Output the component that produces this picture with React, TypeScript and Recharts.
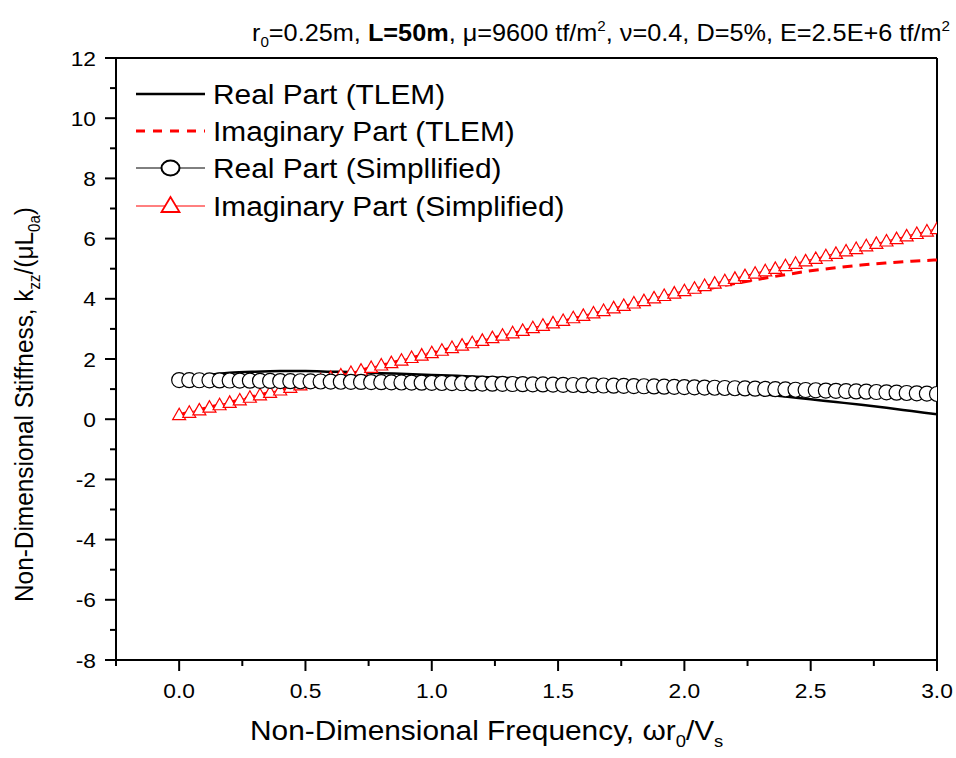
import React from 'react';
import { ComposedChart, Line, XAxis, YAxis, ReferenceLine } from 'recharts';

const FONT = '"Liberation Sans", Arial, Helvetica, sans-serif';
const SX = 1.085;

// TLEM results (0.1 step)
const tlemX = [0, 0.1, 0.2, 0.3, 0.4, 0.5, 0.6, 0.7, 0.8, 0.9, 1.0, 1.1, 1.2, 1.3, 1.4, 1.5, 1.6, 1.7, 1.8, 1.9, 2.0, 2.1, 2.2, 2.3, 2.4, 2.5, 2.6, 2.7, 2.8, 2.9, 3.0];
const tlemReal = [1.30, 1.45, 1.54, 1.58, 1.60, 1.60, 1.58, 1.56, 1.53, 1.50, 1.47, 1.44, 1.40, 1.37, 1.33, 1.29, 1.25, 1.20, 1.15, 1.10, 1.04, 0.98, 0.92, 0.84, 0.75, 0.66, 0.57, 0.48, 0.38, 0.27, 0.16];
const tlemImag = [0.15, 0.36, 0.56, 0.77, 0.97, 1.18, 1.38, 1.59, 1.79, 2.00, 2.20, 2.41, 2.61, 2.81, 3.01, 3.21, 3.41, 3.60, 3.79, 3.98, 4.16, 4.34, 4.51, 4.66, 4.80, 4.93, 5.03, 5.12, 5.19, 5.25, 5.29];

// Simplified results (0.04 step)
const simpX = [0, 0.04, 0.08, 0.12, 0.16, 0.2, 0.24, 0.28, 0.32, 0.36, 0.4, 0.44, 0.48, 0.52, 0.56, 0.6, 0.64, 0.68, 0.72, 0.76, 0.8, 0.84, 0.88, 0.92, 0.96, 1.0, 1.04, 1.08, 1.12, 1.16, 1.2, 1.24, 1.28, 1.32, 1.36, 1.4, 1.44, 1.48, 1.52, 1.56, 1.6, 1.64, 1.68, 1.72, 1.76, 1.8, 1.84, 1.88, 1.92, 1.96, 2.0, 2.04, 2.08, 2.12, 2.16, 2.2, 2.24, 2.28, 2.32, 2.36, 2.4, 2.44, 2.48, 2.52, 2.56, 2.6, 2.64, 2.68, 2.72, 2.76, 2.8, 2.84, 2.88, 2.92, 2.96, 3.0];
const simpReal = [1.300, 1.297, 1.294, 1.291, 1.288, 1.285, 1.282, 1.279, 1.276, 1.272, 1.268, 1.264, 1.261, 1.257, 1.253, 1.249, 1.245, 1.241, 1.237, 1.233, 1.229, 1.225, 1.220, 1.216, 1.212, 1.208, 1.203, 1.198, 1.194, 1.189, 1.184, 1.179, 1.174, 1.169, 1.164, 1.159, 1.154, 1.149, 1.143, 1.137, 1.131, 1.125, 1.119, 1.113, 1.107, 1.101, 1.094, 1.088, 1.081, 1.074, 1.067, 1.060, 1.052, 1.045, 1.037, 1.029, 1.021, 1.013, 1.005, 0.996, 0.988, 0.979, 0.970, 0.961, 0.952, 0.942, 0.933, 0.923, 0.913, 0.903, 0.892, 0.882, 0.871, 0.860, 0.849, 0.838];
const simpImag = [0.15, 0.23, 0.31, 0.40, 0.48, 0.56, 0.64, 0.73, 0.81, 0.89, 0.97, 1.06, 1.14, 1.22, 1.30, 1.39, 1.47, 1.55, 1.63, 1.72, 1.80, 1.88, 1.96, 2.05, 2.13, 2.21, 2.29, 2.38, 2.46, 2.54, 2.62, 2.71, 2.79, 2.87, 2.95, 3.04, 3.12, 3.20, 3.28, 3.37, 3.45, 3.53, 3.61, 3.70, 3.78, 3.86, 3.94, 4.03, 4.11, 4.19, 4.27, 4.35, 4.44, 4.52, 4.60, 4.68, 4.77, 4.85, 4.93, 5.01, 5.10, 5.18, 5.26, 5.34, 5.43, 5.51, 5.59, 5.67, 5.76, 5.84, 5.92, 6.00, 6.09, 6.17, 6.25, 6.33];

const xTicks = [-0.25, 0, 0.25, 0.5, 0.75, 1.0, 1.25, 1.5, 1.75, 2.0, 2.25, 2.5, 2.75, 3.0];
const xMajor = [0, 0.5, 1.0, 1.5, 2.0, 2.5, 3.0];
const yTicks = [-8, -7, -6, -5, -4, -3, -2, -1, 0, 1, 2, 3, 4, 5, 6, 7, 8, 9, 10, 11, 12];
const yMajor = [-8, -6, -4, -2, 0, 2, 4, 6, 8, 10, 12];

const legendLabels = ['Real Part (TLEM)', 'Imaginary Part (TLEM)', 'Real Part (Simpllified)', 'Imaginary Part (Simplified)'];

const tlemData = tlemX.map((x, i) => ({ x, re: tlemReal[i], im: tlemImag[i] }));
const simpData = simpX.map((x, i) => ({ x, re: simpReal[i], im: simpImag[i] }));

const isIn = (arr: number[], v: number) => arr.some((m) => Math.abs(m - v) < 1e-9);

const XTick = (props: any) => {
  const { x, y, payload } = props;
  const v = payload.value as number;
  const major = isIn(xMajor, v);
  return (
    <g>
      <line x1={x} x2={x} y1={y} y2={y + (major ? 11 : 6)} stroke="#000" strokeWidth={2} />
      {major && (
        <g transform={`translate(${x},${y + 38}) scale(${SX},1)`}>
          <text x={0} y={0} textAnchor="middle" fontSize={21} fontFamily={FONT} fill="#000">
            {v.toFixed(1)}
          </text>
        </g>
      )}
    </g>
  );
};

const YTick = (props: any) => {
  const { x, y, payload } = props;
  const v = payload.value as number;
  const major = isIn(yMajor, v);
  return (
    <g>
      <line x1={x - (major ? 11 : 6)} x2={x} y1={y} y2={y} stroke="#000" strokeWidth={2} />
      {major && (
        <g transform={`translate(${x - 20},${y + 7.5}) scale(${SX},1)`}>
          <text x={0} y={0} textAnchor="end" fontSize={21} fontFamily={FONT} fill="#000">
            {String(v)}
          </text>
        </g>
      )}
    </g>
  );
};

const CircleDot = (p: any) => {
  const { cx, cy, index } = p;
  if (cx == null || cy == null) return <g key={`c${index}`} />;
  return <circle key={`c${index}`} cx={cx} cy={cy} r={7.5} fill="#fff" stroke="#000" strokeWidth={1.2} />;
};

const TriDot = (p: any) => {
  const { cx, cy, index } = p;
  if (cx == null || cy == null) return <g key={`t${index}`} />;
  return (
    <polygon
      key={`t${index}`}
      points={`${cx},${cy - 6.5} ${cx - 6.5},${cy + 5} ${cx + 6.5},${cy + 5}`}
      fill="#fff"
      stroke="#ff0000"
      strokeWidth={1.2}
    />
  );
};

const Overlay = () => {
  const rows = [94, 131, 168, 206];
  return (
    <svg width={956} height={758} style={{ position: 'absolute', left: 0, top: 0, pointerEvents: 'none' }}>
      {/* Title */}
      <g transform={`translate(252,41) scale(${SX},1)`}>
        <text x={0} y={0} fontSize={23.3} fontFamily={FONT} fill="#000">
          <tspan>r</tspan>
          <tspan dy={6} fontSize={14}>0</tspan>
          <tspan dy={-6}>{'=0.25m, '}</tspan>
          <tspan fontWeight="bold">{'L=50m'}</tspan>
          <tspan>{', \u03bc=9600 tf/m'}</tspan>
          <tspan dy={-10} fontSize={14}>2</tspan>
          <tspan dy={10}>{', \u03bd=0.4, D=5%, E=2.5E+6 tf/m'}</tspan>
          <tspan dy={-10} fontSize={14}>2</tspan>
        </text>
      </g>
      {/* X label */}
      <g transform={`translate(250,740) scale(${SX},1)`}>
        <text x={0} y={0} fontSize={27.5} fontFamily={FONT} fill="#000">
          <tspan>{'Non-Dimensional Frequency, \u03c9r'}</tspan>
          <tspan dy={7} fontSize={17}>0</tspan>
          <tspan dy={-7}>{'/V'}</tspan>
          <tspan dy={7} fontSize={17}>s</tspan>
        </text>
      </g>
      {/* Y label */}
      <g transform={`translate(33,602) rotate(-90) scale(1,${SX})`}>
        <text x={0} y={0} fontSize={24.4} fontFamily={FONT} fill="#000">
          <tspan>{'Non-Dimensional Stiffness, k'}</tspan>
          <tspan dy={6} fontSize={15}>zz</tspan>
          <tspan dy={-6}>{'/(\u03bcL'}</tspan>
          <tspan dy={6} fontSize={15}>0a</tspan>
          <tspan dy={-6}>{')'}</tspan>
        </text>
      </g>
      {/* Legend */}
      <line x1={136} x2={205} y1={rows[0]} y2={rows[0]} stroke="#000" strokeWidth={2.5} />
      <line x1={136} x2={205} y1={rows[1]} y2={rows[1]} stroke="#ff0000" strokeWidth={3} strokeDasharray="9 8" />
      <line x1={136} x2={205} y1={rows[2]} y2={rows[2]} stroke="#000" strokeWidth={1} />
      <ellipse cx={170.5} cy={rows[2]} rx={9} ry={7.5} fill="#fff" stroke="#000" strokeWidth={2} />
      <line x1={136} x2={205} y1={rows[3]} y2={rows[3]} stroke="#ff0000" strokeWidth={1} />
      <polygon
        points={`170.5,${rows[3] - 9} 161.5,${rows[3] + 6} 179.5,${rows[3] + 6}`}
        fill="#fff"
        stroke="#ff0000"
        strokeWidth={1.8}
      />
      {legendLabels.map((t, i) => (
        <g key={t} transform={`translate(213,${rows[i] + 9.5}) scale(${SX},1)`}>
          <text x={0} y={0} fontSize={27.5} fontFamily={FONT} fill="#000">
            {t}
          </text>
        </g>
      ))}
    </svg>
  );
};

export default function App() {
  return (
    <div style={{ position: 'absolute', left: 0, top: 0, width: 956, height: 758, background: '#fff' }}>
      <ComposedChart
        width={956}
        height={758}
        margin={{ top: 58, right: 19, bottom: 38, left: 56 }}
        style={{ background: '#fff' }}
      >
        <XAxis
          type="number"
          dataKey="x"
          domain={[-0.25, 3]}
          ticks={xTicks}
          interval={0}
          allowDataOverflow
          height={60}
          tickSize={0}
          tickMargin={0}
          tickLine={false}
          axisLine={{ stroke: '#000', strokeWidth: 2 }}
          tick={<XTick />}
        />
        <YAxis
          type="number"
          domain={[-8, 12]}
          ticks={yTicks}
          interval={0}
          allowDataOverflow
          width={60}
          tickSize={0}
          tickMargin={0}
          tickLine={false}
          axisLine={{ stroke: '#000', strokeWidth: 2 }}
          tick={<YTick />}
        />
        <ReferenceLine y={12} stroke="#000" strokeWidth={2} />
        <ReferenceLine x={3} stroke="#000" strokeWidth={2} />
        <Line
          data={tlemData}
          dataKey="im"
          type="monotone"
          stroke="#ff0000"
          strokeWidth={3}
          strokeDasharray="10 7"
          dot={false}
          activeDot={false}
          isAnimationActive={false}
        />
        <Line
          data={tlemData}
          dataKey="re"
          type="monotone"
          stroke="#000"
          strokeWidth={2.5}
          dot={false}
          activeDot={false}
          isAnimationActive={false}
        />
        <Line
          data={simpData}
          dataKey="im"
          type="linear"
          stroke="#ff0000"
          strokeWidth={1}
          dot={TriDot}
          activeDot={false}
          isAnimationActive={false}
        />
        <Line
          data={simpData}
          dataKey="re"
          type="linear"
          stroke="#000"
          strokeWidth={1}
          dot={CircleDot}
          activeDot={false}
          isAnimationActive={false}
        />
      </ComposedChart>
      <Overlay />
    </div>
  );
}
